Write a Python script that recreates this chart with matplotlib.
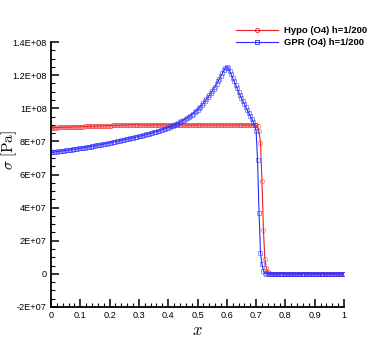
import numpy as np
import matplotlib
matplotlib.use("Agg")
import matplotlib.pyplot as plt
from matplotlib.ticker import FixedLocator, FixedFormatter, MultipleLocator

# grid h = 1/200
x = np.linspace(0.0, 1.0, 201)

# stress values in units of 1e7 Pa
hypo = [
    8.82, 8.82, 8.83, 8.83, 8.83, 8.84, 8.84, 8.84, 8.85, 8.85,
    8.85, 8.86, 8.86, 8.86, 8.87, 8.87, 8.87, 8.88, 8.88, 8.88,
    8.89, 8.89, 8.89, 8.90, 8.90, 8.90, 8.91, 8.91, 8.91, 8.92,
    8.92, 8.92, 8.93, 8.93, 8.93, 8.94, 8.94, 8.94, 8.95, 8.95,
    8.95, 8.95, 8.96, 8.96, 8.96, 8.97, 8.97, 8.97, 8.98, 8.98,
    8.98, 8.99, 8.99, 9.00, 9.00, 9.01, 9.01, 9.01, 9.00, 9.00,
    8.99, 8.99, 8.99, 8.98, 8.98, 8.98, 8.98, 8.99, 8.99, 8.99,
    9.00, 9.00, 9.00, 9.00, 9.00, 8.99, 8.99, 8.99, 8.99, 8.99,
    8.99, 8.99, 9.00, 9.00, 9.00, 9.00, 9.00, 9.00, 9.00, 9.00,
    8.99, 8.99, 8.99, 8.99, 8.99, 8.99, 8.99, 8.99, 8.99, 8.99,
    8.99, 8.99, 8.99, 8.99, 8.99, 8.99, 8.99, 8.99, 8.99, 8.99,
    8.99, 8.99, 8.99, 8.99, 8.99, 8.99, 8.99, 8.99, 8.99, 8.99,
    8.99, 8.99, 8.99, 8.99, 8.99, 8.99, 8.99, 8.99, 8.99, 8.99,
    8.99, 8.99, 8.99, 8.99, 8.99, 8.99, 8.99, 8.99, 8.99, 8.98,
    8.97, 8.90, 8.60, 7.90, 5.60, 2.66, 0.90, 0.36, 0.12, 0.04,
    0.01, 0.00, 0.00, 0.00, 0.00, 0.00, 0.00, 0.00, 0.00, 0.00,
    0.00, 0.00, 0.00, 0.00, 0.00, 0.00, 0.00, 0.00, 0.00, 0.00,
    0.00, 0.00, 0.00, 0.00, 0.00, 0.00, 0.00, 0.00, 0.00, 0.00,
    0.00, 0.00, 0.00, 0.00, 0.00, 0.00, 0.00, 0.00, 0.00, 0.00,
    0.00, 0.00, 0.00, 0.00, 0.00, 0.00, 0.00, 0.00, 0.00, 0.00,
    0.00,
]

gpr = [
    7.33, 7.34, 7.35, 7.37, 7.38, 7.39, 7.40, 7.41, 7.43, 7.44,
    7.45, 7.46, 7.48, 7.49, 7.50, 7.52, 7.53, 7.54, 7.56, 7.57,
    7.59, 7.60, 7.62, 7.63, 7.65, 7.66, 7.68, 7.69, 7.71, 7.72,
    7.74, 7.76, 7.77, 7.79, 7.80, 7.82, 7.84, 7.86, 7.87, 7.89,
    7.91, 7.93, 7.95, 7.97, 7.98, 8.00, 8.02, 8.04, 8.06, 8.08,
    8.10, 8.12, 8.14, 8.16, 8.18, 8.20, 8.22, 8.24, 8.26, 8.28,
    8.30, 8.32, 8.35, 8.37, 8.39, 8.42, 8.44, 8.46, 8.49, 8.51,
    8.54, 8.57, 8.59, 8.62, 8.65, 8.68, 8.71, 8.74, 8.77, 8.80,
    8.83, 8.87, 8.90, 8.94, 8.97, 9.02, 9.06, 9.11, 9.16, 9.21,
    9.26, 9.31, 9.36, 9.41, 9.46, 9.54, 9.61, 9.68, 9.76, 9.84,
    9.92, 10.01, 10.10, 10.20, 10.31, 10.42, 10.53, 10.65, 10.77, 10.90,
    11.03, 11.17, 11.31, 11.46, 11.62, 11.78, 11.95, 12.12, 12.30, 12.45,
    12.50, 12.42, 12.25, 12.05, 11.84, 11.63, 11.42, 11.21, 11.00, 10.80,
    10.60, 10.42, 10.24, 10.06, 9.88, 9.71, 9.54, 9.36, 9.18, 8.98,
    8.65, 6.85, 3.70, 1.27, 0.60, 0.18, 0.05, 0.01, 0.00, 0.00,
    0.00, 0.00, 0.00, 0.00, 0.00, 0.00, 0.00, 0.00, 0.00, 0.00,
    0.00, 0.00, 0.00, 0.00, 0.00, 0.00, 0.00, 0.00, 0.00, 0.00,
    0.00, 0.00, 0.00, 0.00, 0.00, 0.00, 0.00, 0.00, 0.00, 0.00,
    0.00, 0.00, 0.00, 0.00, 0.00, 0.00, 0.00, 0.00, 0.00, 0.00,
    0.00, 0.00, 0.00, 0.00, 0.00, 0.00, 0.00, 0.00, 0.00, 0.00,
    0.00,
]

labels = ["Hypo (O4) h=1/200", "GPR (O4) h=1/200"]

xticks = [0, 0.1, 0.2, 0.3, 0.4, 0.5, 0.6, 0.7, 0.8, 0.9, 1]
xticklabels = ["0", "0.1", "0.2", "0.3", "0.4", "0.5", "0.6", "0.7", "0.8", "0.9", "1"]
yticks = [-2e7, 0, 2e7, 4e7, 6e7, 8e7, 1e8, 1.2e8, 1.4e8]
yticklabels = ["-2E+07", "0", "2E+07", "4E+07", "6E+07", "8E+07", "1E+08", "1.2E+08", "1.4E+08"]

plt.rcParams['font.family'] = ['Liberation Sans', 'DejaVu Sans']
plt.rcParams['mathtext.fontset'] = 'cm'

fig = plt.figure(figsize=(3.9, 3.47), dpi=100)
ax = fig.add_axes([51/390, 40/347, 293/390, 265/347])

hypo_pa = np.array(hypo) * 1e7
gpr_pa = np.array(gpr) * 1e7

red = '#e8202a'
blue = '#2a2aff'
ax.plot(x, hypo_pa, color=red, lw=0.8, marker='o', ms=3.0, mfc='none',
        mec=(0.92, 0.2, 0.2, 0.6), mew=0.6, label=labels[0])
ax.plot(x, gpr_pa, color=blue, lw=0.8, marker='s', ms=2.8, mfc='none',
        mec=(0.2, 0.2, 1.0, 0.6), mew=0.6, label=labels[1])

ax.set_xlim(0, 1)
ax.set_ylim(-2e7, 1.4e8)
ax.xaxis.set_major_locator(FixedLocator(xticks))
ax.xaxis.set_major_formatter(FixedFormatter(xticklabels))
ax.xaxis.set_minor_locator(MultipleLocator(0.02))
ax.yaxis.set_major_locator(FixedLocator(yticks))
ax.yaxis.set_major_formatter(FixedFormatter(yticklabels))
ax.yaxis.set_minor_locator(MultipleLocator(5e6))

for s in ['top', 'right']:
    ax.spines[s].set_visible(False)
for s in ['left', 'bottom']:
    ax.spines[s].set_linewidth(1.3)

ax.tick_params(which='major', direction='in', length=6, width=1.1, labelsize=6.6, pad=3)
ax.tick_params(which='minor', direction='in', length=3, width=0.8)

ax.set_xlabel(r'$x$', fontsize=12)
ax.xaxis.set_label_coords(0.5, -(323 - 307) / 265, transform=ax.transAxes)
ax.set_ylabel(r'$\sigma\ [\mathrm{Pa}]$', fontsize=11)
ax.yaxis.set_label_coords(-(51 - 19) / 293, (307 - 150) / 265)

leg = fig.legend(loc='upper left', bbox_to_anchor=(236/390, 1 - 26/347), frameon=False,
                 prop={'weight': 'bold', 'size': 6.8}, handlelength=4.4, numpoints=1,
                 handletextpad=0.7, labelspacing=0.3, borderpad=0, borderaxespad=0)
for h in leg.legend_handles:
    h.set_markeredgecolor(h.get_color())

fig.savefig('out.png', dpi=100)
